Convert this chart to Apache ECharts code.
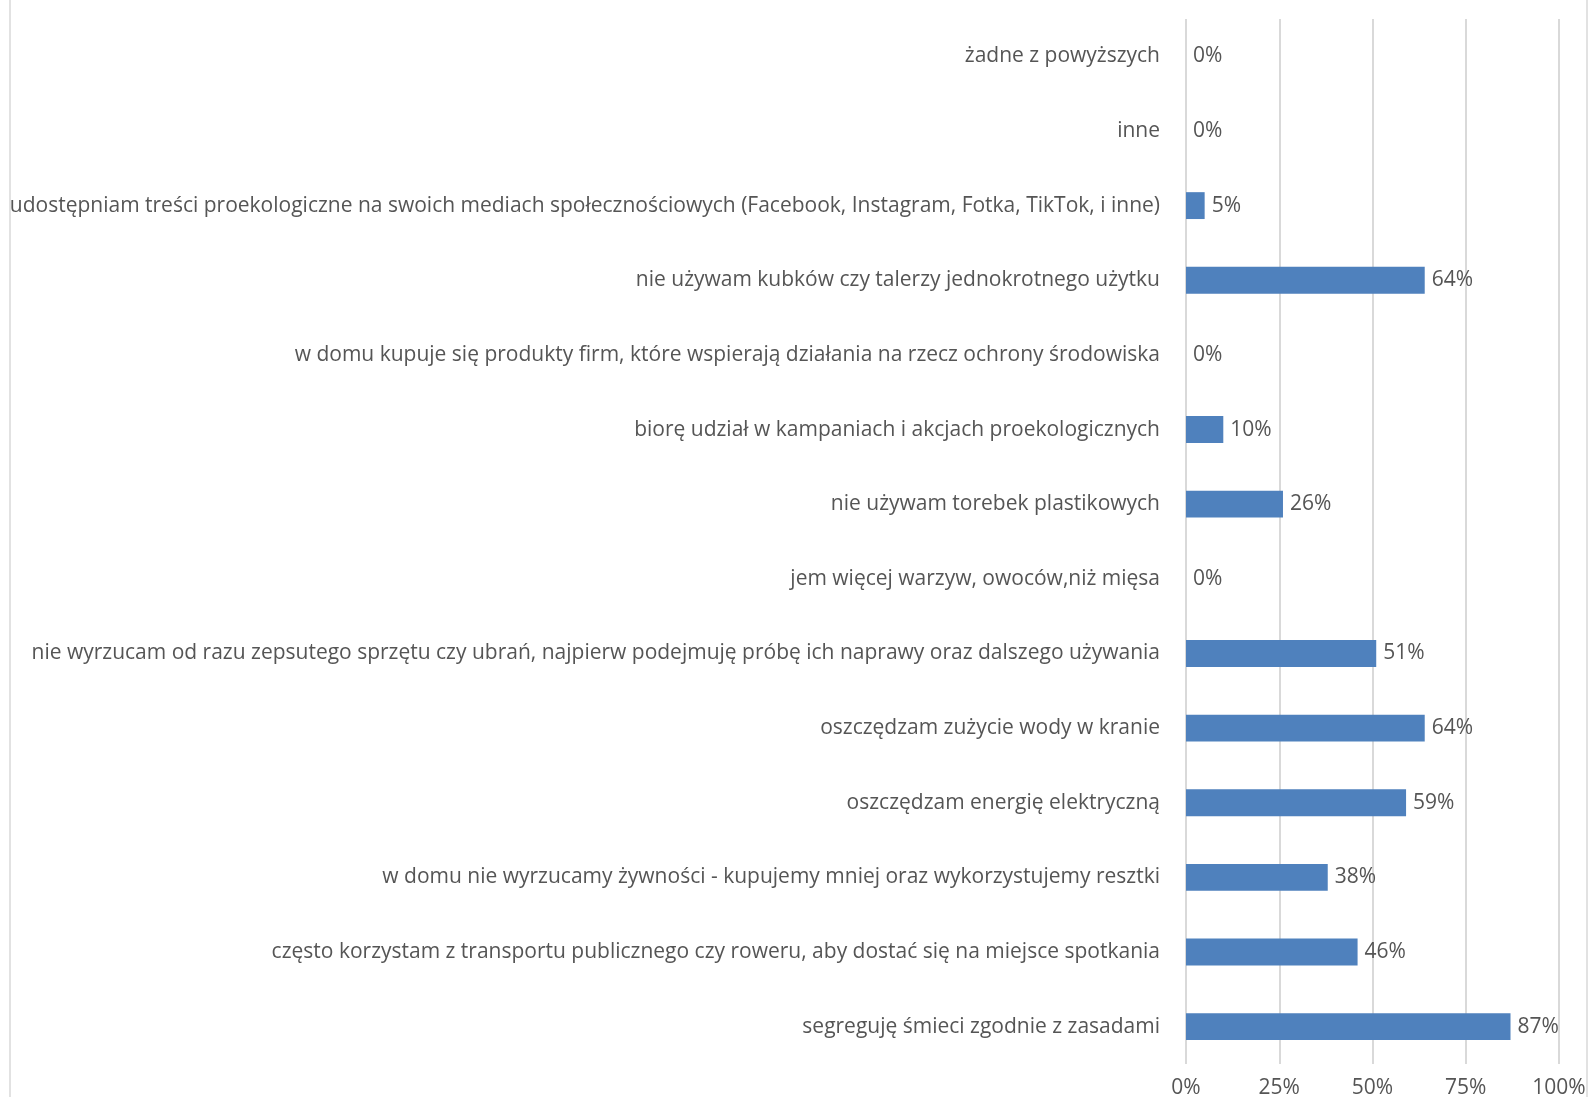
<!DOCTYPE html>
<html>
<head>
<meta charset="utf-8">
<script src="https://cdn.jsdelivr.net/npm/echarts@6/dist/echarts.min.js"></script>
<style>
  html, body { margin: 0; padding: 0; background: #fff; }
  #chart { width: 1588px; height: 1097px; }
</style>
</head>
<body>
<div id="chart"></div>
<script>
// kategorie od góry do dołu
const categories = [
  'żadne z powyższych',
  'inne',
  'udostępniam treści proekologiczne na swoich mediach społecznościowych (Facebook, Instagram, Fotka, TikTok, i inne)',
  'nie używam kubków czy talerzy jednokrotnego użytku',
  'w domu kupuje się produkty firm, które wspierają działania na rzecz ochrony środowiska',
  'biorę udział w kampaniach i akcjach proekologicznych',
  'nie używam torebek plastikowych',
  'jem więcej warzyw, owoców,niż mięsa',
  'nie wyrzucam od razu zepsutego sprzętu czy ubrań, najpierw podejmuję próbę ich naprawy oraz dalszego używania',
  'oszczędzam zużycie wody w kranie',
  'oszczędzam energię elektryczną',
  'w domu nie wyrzucamy żywności - kupujemy mniej oraz wykorzystujemy resztki',
  'często korzystam z transportu publicznego czy roweru, aby dostać się na miejsce spotkania',
  'segreguję śmieci zgodnie z zasadami'
]
const values = [0, 0, 5, 64, 0, 10, 26, 0, 51, 64, 59, 38, 46, 87]
const xTicks = [0, 25, 50, 75, 100]

const font = '"Open Sans", sans-serif'
const textColor = '#555555'

const chart = echarts.init(document.getElementById('chart'))
chart.setOption({
  animation: false,
  graphic: [{
    type: 'rect',
    shape: { x: 10, y: -2, width: 1577, height: 1102 },
    style: { fill: 'none', stroke: '#d9d9d9', lineWidth: 1.5 },
    silent: true
  }],
  grid: { left: 1186, right: 29, top: 19, bottom: 33, containLabel: false, outerBoundsMode: 'none' },
  xAxis: {
    type: 'value',
    min: xTicks[0],
    max: xTicks[xTicks.length - 1],
    interval: 25,
    axisLine: { show: false },
    axisTick: { show: false },
    splitLine: { show: true, lineStyle: { color: '#d9d9d9', width: 2 } },
    axisLabel: {
      formatter: '{value}%',
      color: textColor,
      fontFamily: font,
      fontSize: 21,
      margin: 14
    }
  },
  yAxis: {
    type: 'category',
    inverse: true,
    data: categories,
    axisLine: { show: false },
    axisTick: { show: false },
    axisLabel: {
      color: textColor,
      fontFamily: font,
      fontSize: 21,
      margin: 26
    }
  },
  series: [{
    type: 'bar',
    data: values,
    barCategoryGap: '64%',
    itemStyle: { color: '#4f81bd' },
    label: {
      show: true,
      position: 'right',
      distance: 7,
      formatter: '{c}%',
      color: textColor,
      fontFamily: font,
      fontSize: 21
    }
  }]
})
</script>
</body>
</html>
